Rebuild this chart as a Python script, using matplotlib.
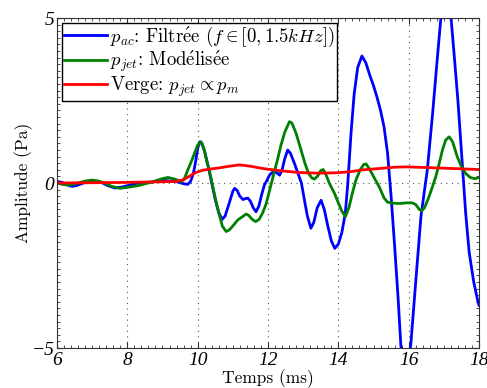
import matplotlib
matplotlib.use("Agg")
import matplotlib.pyplot as plt
from matplotlib.ticker import MultipleLocator, FixedLocator

plt.rcParams['font.family'] = ['cmr10', 'Liberation Serif']
plt.rcParams['mathtext.fontset'] = 'cm'
plt.rcParams['axes.unicode_minus'] = True

# p_ac : filtered signal
t_ac = [6.0, 6.15, 6.3, 6.43, 6.55, 6.75, 7.0, 7.15, 7.3, 7.45, 7.65, 7.85, 8.0, 8.3, 8.7,
        9.06, 9.4, 9.6, 9.72, 9.8, 9.88, 9.95, 10.0, 10.06, 10.12, 10.2, 10.3, 10.4, 10.5,
        10.6, 10.7, 10.78, 10.9, 11.0, 11.05, 11.12, 11.2, 11.29, 11.36, 11.43, 11.5, 11.58,
        11.66, 11.74, 11.82, 11.9, 11.95, 12.05, 12.14, 12.24, 12.33, 12.4, 12.48, 12.56,
        12.64, 12.75, 12.85, 12.95, 13.05, 13.12, 13.22, 13.3, 13.4, 13.51, 13.6, 13.7,
        13.8, 13.9, 14.0, 14.1, 14.2, 14.27, 14.36, 14.45, 14.55, 14.67, 14.78, 14.9, 15.0,
        15.1, 15.2, 15.3, 15.4, 15.5, 15.6, 15.7, 15.78, 15.93, 16.06, 16.2, 16.35, 16.53,
        16.68, 16.8, 16.91, 17.06, 17.21, 17.3, 17.4, 17.53, 17.62, 17.72, 17.85, 17.97, 18.0]
p_ac = [0.05, 0.02, -0.06, -0.1, -0.08, 0.0, 0.07, 0.05, 0.0, -0.08, -0.15, -0.12, -0.08, 0.0, 0.03,
        0.08, 0.04, -0.02, -0.04, 0.05, 0.3, 0.7, 1.05, 1.25, 1.2, 0.95, 0.5, 0.0, -0.5,
        -0.9, -1.1, -1.0, -0.6, -0.25, -0.16, -0.22, -0.4, -0.5, -0.47, -0.46, -0.55, -0.75,
        -0.87, -0.7, -0.35, -0.05, 0.04, 0.25, 0.34, 0.32, 0.24, 0.4, 0.75, 1.0,
        0.9, 0.6, 0.3, 0.0, -0.6, -1.0, -1.37, -1.2, -0.75, -0.52, -0.8, -1.3,
        -1.75, -1.98, -1.85, -1.5, -0.9, 0.0, 1.5, 2.7, 3.5, 3.85, 3.65, 3.25, 2.95,
        2.6, 2.2, 1.7, 0.9, -0.4, -1.9, -3.5, -4.96, -5.8, -4.9, -3.0, -1.0, 0.4,
        2.1, 3.6, 4.94, 5.8, 4.94, 3.8, 2.5, 0.5, -0.9, -2.1, -3.0, -3.6, -3.7]

# p_jet : modelled
t_jet = [6.0, 6.15, 6.31, 6.45, 6.6, 6.8, 7.0, 7.18, 7.36, 7.55, 7.79, 8.0, 8.3, 8.7, 8.95,
         9.15, 9.35, 9.54, 9.63, 9.72, 9.82, 9.91, 10.0, 10.1, 10.18, 10.25, 10.35, 10.43,
         10.52, 10.6, 10.7, 10.81, 10.9, 11.0, 11.14, 11.26, 11.38, 11.45, 11.55, 11.65,
         11.75, 11.85, 11.95, 12.05, 12.18, 12.28, 12.37, 12.48, 12.61, 12.68, 12.8, 12.94,
         13.05, 13.15, 13.25, 13.32, 13.42, 13.5, 13.57, 13.65, 13.75, 13.89, 14.0, 14.1,
         14.2, 14.3, 14.4, 14.5, 14.62, 14.72, 14.79, 14.87, 14.95, 15.05, 15.16, 15.3,
         15.4, 15.55, 15.73, 15.95, 16.1, 16.2, 16.3, 16.37, 16.45, 16.58, 16.68, 16.77,
         16.87, 16.96, 17.05, 17.15, 17.25, 17.38, 17.5, 17.62, 17.75, 17.88, 18.0]
p_jet = [0.0, -0.04, -0.06, -0.04, 0.0, 0.06, 0.09, 0.06, 0.0, -0.1, -0.16, -0.13, -0.08, 0.03, 0.12,
         0.17, 0.12, 0.04, 0.15, 0.4, 0.65, 0.9, 1.15, 1.25, 1.05, 0.7, 0.3, -0.1,
         -0.55, -0.9, -1.3, -1.47, -1.42, -1.3, -1.12, -1.03, -0.94, -0.98, -1.1, -1.17,
         -1.1, -0.9, -0.62, -0.2, 0.34, 0.75, 1.15, 1.55, 1.86, 1.82, 1.5, 1.0,
         0.6, 0.3, 0.15, 0.12, 0.22, 0.38, 0.41, 0.25, -0.02, -0.31, -0.6, -0.85,
         -1.02, -0.75, -0.3, 0.09, 0.4, 0.56, 0.58, 0.45, 0.3, 0.1, -0.11, -0.45,
         -0.58, -0.61, -0.62, -0.6, -0.6, -0.65, -0.8, -0.84, -0.75, -0.41, -0.1, 0.19,
         0.6, 1.0, 1.3, 1.4, 1.25, 0.8, 0.5, 0.29, 0.17, 0.13, 0.17]

# Verge
t_verge = [6.0, 7.0, 8.0, 9.0, 9.4, 9.6, 9.77, 9.95, 10.15, 10.4, 10.62, 10.9, 11.19, 11.5,
           11.85, 12.3, 12.85, 13.4, 13.93, 14.31, 14.7, 15.16, 15.6, 15.92, 16.5, 17.0,
           17.5, 18.0]
p_verge = [0.0, 0.01, 0.02, 0.04, 0.05, 0.1, 0.21, 0.32, 0.39, 0.43, 0.46, 0.51, 0.55, 0.51,
           0.44, 0.38, 0.32, 0.3, 0.31, 0.34, 0.4, 0.44, 0.48, 0.49, 0.47, 0.45,
           0.43, 0.41]

E = r'$\mathrm{\acute{e}}$'
labels = [r'$p_{ac}$: Filtr' + E + r'e ($f \in [0,1.5kHz]$)',
          r'$p_{jet}$: Mod' + E + 'lis' + E + 'e',
          r'Verge: $p_{jet} \propto p_m$']

xticks = [6, 8, 10, 12, 14, 16, 18]
yticks = [-5, 0, 5]

fig = plt.figure(figsize=(4.87, 3.88), dpi=100)
ax = fig.add_axes([0.117, 0.103, 0.8666, 0.8505])

ax.plot(t_ac, p_ac, color=(0, 0, 1), lw=2.0, label=labels[0])
ax.plot(t_jet, p_jet, color=(0, 0.5, 0), lw=2.0, label=labels[1])
ax.plot(t_verge, p_verge, color=(1, 0, 0), lw=2.0, label=labels[2])

ax.set_xlim(6, 18)
ax.set_ylim(-5, 5)
ax.xaxis.set_major_locator(FixedLocator(xticks))
ax.yaxis.set_major_locator(FixedLocator(yticks))
ax.xaxis.set_minor_locator(MultipleLocator(0.2))
ax.yaxis.set_minor_locator(MultipleLocator(0.2))
ax.set_xticklabels([str(v).replace('-', '\u2212') for v in xticks],
                   family='Liberation Serif', style='italic', fontsize=14)
ax.set_yticklabels([str(v).replace('-', '\u2212') for v in yticks],
                   family='Liberation Serif', style='italic', fontsize=14)
ax.tick_params(which='both', direction='in', top=True, right=True, color='#333333')
ax.tick_params(axis='x', which='major', length=4, width=0.8, pad=3)
ax.tick_params(axis='y', which='major', length=4, width=0.8, pad=2)
ax.tick_params(which='minor', length=2, width=0.6)
ax.grid(True, which='major', linestyle=(0, (1, 4)), color='#555555', lw=0.8)
for s in ax.spines.values():
    s.set_linewidth(0.8)
    s.set_color('#333333')

ax.set_xlabel('Temps (ms)', fontsize=12.5, labelpad=0)
ax.set_ylabel('Amplitude (Pa)', fontsize=12.5, labelpad=-1)

leg = ax.legend(loc='upper left', fontsize=13.5, frameon=True, fancybox=False,
                edgecolor='black', framealpha=1, borderpad=0.1, labelspacing=0.0,
                handlelength=2.3, handletextpad=0.2, borderaxespad=0.25)
leg.get_frame().set_linewidth(1.0)

fig.savefig('out.png', dpi=100)
